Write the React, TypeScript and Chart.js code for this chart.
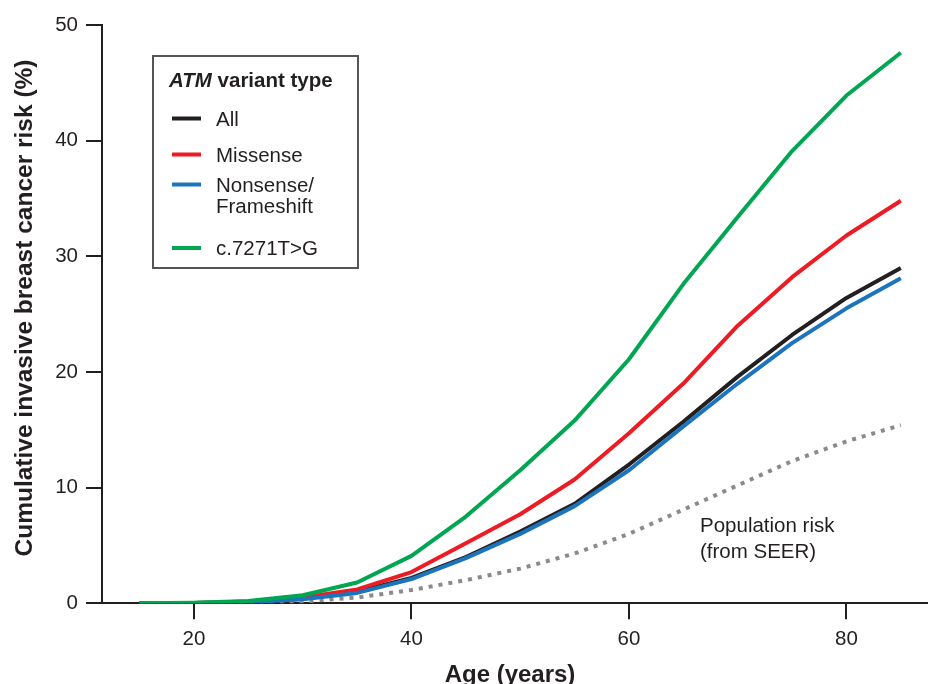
import React, { useEffect, useRef } from "react";
import { Chart, registerables } from "chart.js";

Chart.register(...registerables);

const ages = [15, 20, 25, 30, 35, 40, 45, 50, 55, 60, 65, 70, 75, 80, 85];
const allRisk = [0, 0.02, 0.1, 0.4, 1.0, 2.2, 4.0, 6.2, 8.6, 12.0, 15.7, 19.6, 23.2, 26.4, 29.0];
const missenseRisk = [0, 0.03, 0.15, 0.5, 1.2, 2.7, 5.2, 7.7, 10.7, 14.7, 19.0, 24.0, 28.2, 31.8, 34.8];
const nonsenseRisk = [0, 0.02, 0.1, 0.35, 0.9, 2.1, 3.9, 6.0, 8.4, 11.5, 15.3, 19.0, 22.5, 25.5, 28.1];
const c7271Risk = [0, 0.05, 0.2, 0.7, 1.8, 4.1, 7.5, 11.5, 15.8, 21.1, 27.6, 33.4, 39.1, 43.9, 47.6];
const populationRisk = [0, 0, 0.05, 0.15, 0.5, 1.15, 2.0, 3.0, 4.3, 6.0, 8.1, 10.2, 12.3, 14.0, 15.4];

const xTicks = [20, 40, 60, 80];
const yTicks = [0, 10, 20, 30, 40, 50];

const legendTitleItalic = "ATM";
const legendTitleRest = " variant type";
const legendLabels = [["All"], ["Missense"], ["Nonsense/", "Frameshift"], ["c.7271T>G"]];
const annotationLines = ["Population risk", "(from SEER)"];
const xTitle = "Age (years)";
const yTitle = "Cumulative invasive breast cancer risk (%)";

const BLACK = "#231f20";
const RED = "#ed1c24";
const BLUE = "#1c75bc";
const GREEN = "#00a651";
const GRAY = "#8a8a8a";
const FONT = '"Liberation Sans", Arial, sans-serif';

const toPts = (vals: number[]) => ages.map((a, i) => ({ x: a, y: vals[i] }));

const overlayPlugin = {
  id: "overlay",
  afterDraw(chart: any) {
    const ctx = chart.ctx;
    ctx.save();
    ctx.fillStyle = BLACK;
    // axis titles
    ctx.font = `bold 24px ${FONT}`;
    ctx.textAlign = "center";
    ctx.textBaseline = "alphabetic";
    ctx.fillText(xTitle, 510, 682);
    ctx.save();
    ctx.translate(32, 308);
    ctx.rotate(-Math.PI / 2);
    ctx.font = `bold 24.5px ${FONT}`;
    ctx.fillText(yTitle, 0, 0);
    ctx.restore();

    // legend box
    ctx.strokeStyle = "#555555";
    ctx.lineWidth = 2;
    ctx.strokeRect(153, 56, 205, 212);
    ctx.textAlign = "left";
    ctx.font = `italic bold 20.5px ${FONT}`;
    ctx.fillText(legendTitleItalic, 169, 86.5);
    const w = ctx.measureText(legendTitleItalic).width;
    ctx.font = `bold 20.5px ${FONT}`;
    ctx.fillText(legendTitleRest, 169 + w, 86.5);

    const colors = [BLACK, RED, BLUE, GREEN];
    const markerY = [118.5, 154.5, 184.5, 248];
    const baselines = [[126], [161.8], [192.3, 213.3], [255.3]];
    ctx.font = `20.5px ${FONT}`;
    legendLabels.forEach((lines, i) => {
      ctx.strokeStyle = colors[i];
      ctx.lineWidth = 4;
      ctx.beginPath();
      ctx.moveTo(172, markerY[i]);
      ctx.lineTo(201, markerY[i]);
      ctx.stroke();
      lines.forEach((t, j) => ctx.fillText(t, 216, baselines[i][j]));
    });

    // annotation
    ctx.fillText(annotationLines[0], 700, 531.5);
    ctx.fillText(annotationLines[1], 700, 557.5);
    ctx.restore();
  },
};

export default function App() {
  const ref = useRef<HTMLCanvasElement | null>(null);
  useEffect(() => {
    if (!ref.current) return;
    const chart = new Chart(ref.current, {
      type: "line",
      data: {
        datasets: [
          { label: "Population risk", data: toPts(populationRisk), borderColor: GRAY, borderWidth: 4, borderDash: [4, 6], order: 4 },
          { label: "All", data: toPts(allRisk), borderColor: BLACK, borderWidth: 4, order: 3 },
          { label: "Missense", data: toPts(missenseRisk), borderColor: RED, borderWidth: 4, order: 2 },
          { label: "Nonsense/Frameshift", data: toPts(nonsenseRisk), borderColor: BLUE, borderWidth: 4, order: 1 },
          { label: "c.7271T>G", data: toPts(c7271Risk), borderColor: GREEN, borderWidth: 4, order: 0 },
        ] as any,
      },
      options: {
        animation: false,
        responsive: true,
        maintainAspectRatio: false,
        elements: { point: { radius: 0 }, line: { tension: 0, borderJoinStyle: "round" } },
        layout: { padding: { top: 25, right: 0, left: 0, bottom: 0 } },
        plugins: { legend: { display: false }, tooltip: { enabled: false } },
        scales: {
          x: {
            type: "linear",
            min: 11.54,
            max: 87.5,
            afterBuildTicks: (s: any) => { s.ticks = xTicks.map((v) => ({ value: v })); },
            afterFit: (s: any) => { s.height = 80.7; },
            ticks: { color: BLACK, font: { family: FONT, size: 20.5 }, padding: 8, maxRotation: 0 },
            grid: { drawOnChartArea: false, drawTicks: true, tickLength: 16, color: BLACK, lineWidth: 2 },
            border: { display: true, color: BLACK, width: 2 },
          },
          y: {
            type: "linear",
            min: 0,
            max: 50,
            afterBuildTicks: (s: any) => { s.ticks = yTicks.map((v) => ({ value: v })); },
            afterFit: (s: any) => { s.width = 102; },
            ticks: { color: BLACK, font: { family: FONT, size: 20.5 }, padding: 8 },
            grid: { drawOnChartArea: false, drawTicks: true, tickLength: 16, color: BLACK, lineWidth: 2 },
            border: { display: true, color: BLACK, width: 2 },
          },
        },
      } as any,
      plugins: [overlayPlugin],
    });
    return () => chart.destroy();
  }, []);
  return (
    <div style={{ position: "fixed", left: 0, top: 0, width: 928, height: 684, background: "#fff" }}>
      <canvas ref={ref} />
    </div>
  );
}
